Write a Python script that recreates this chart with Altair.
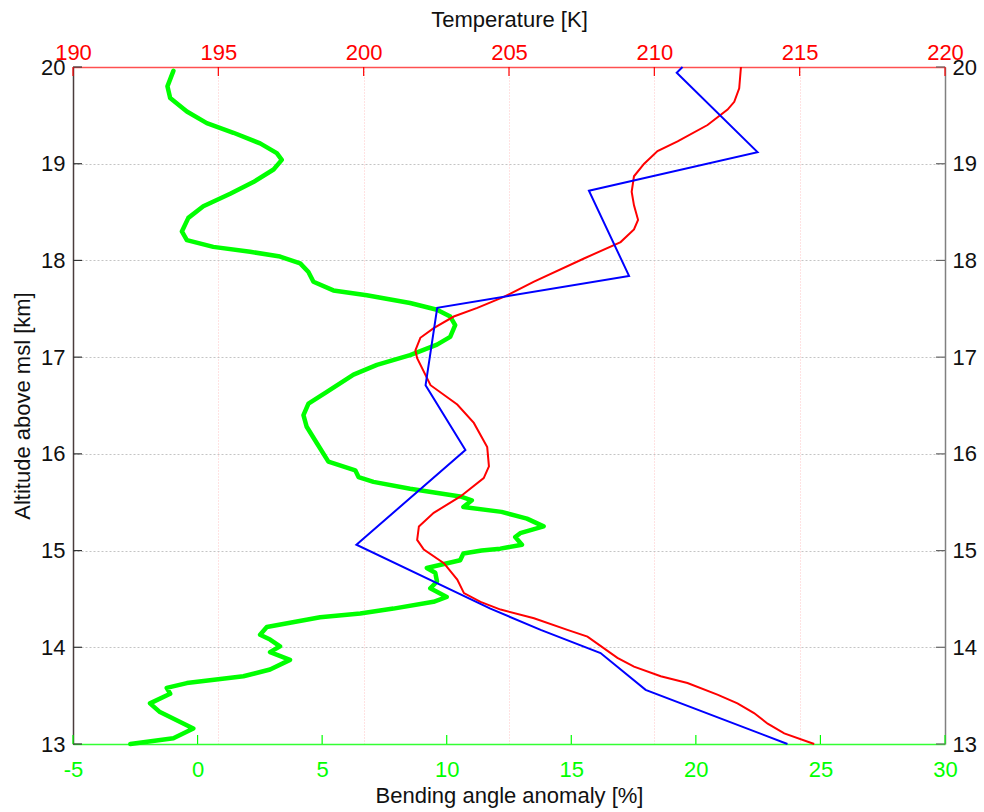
import altair as alt
import pandas as pd

# ---- data ----
green_alt = [19.96, 19.80, 19.68, 19.54, 19.42, 19.32, 19.21, 19.11, 19.04, 18.94,
             18.81, 18.69, 18.56, 18.44, 18.30, 18.21, 18.14, 18.09, 18.04, 17.97,
             17.88, 17.78, 17.69, 17.64, 17.56, 17.49, 17.42, 17.33, 17.21, 17.13,
             17.02, 16.92, 16.82, 16.64, 16.52, 16.40, 16.28, 16.11, 15.92, 15.83,
             15.76, 15.71, 15.64, 15.56, 15.52, 15.45, 15.40, 15.33, 15.25, 15.18,
             15.14, 15.06, 15.02, 15.00, 14.97, 14.90, 14.82, 14.77, 14.68, 14.61,
             14.52, 14.47, 14.40, 14.35, 14.31, 14.21, 14.13, 14.08, 14.01, 13.95,
             13.87, 13.77, 13.70, 13.63, 13.58, 13.52, 13.42, 13.33, 13.16, 13.06,
             13.00]
green_bend = [-0.97, -1.21, -1.10, -0.43, 0.37, 1.44, 2.51, 3.18, 3.38, 3.05,
              2.24, 1.31, 0.23, -0.37, -0.63, -0.43, 0.63, 2.11, 3.31, 4.12,
              4.45, 4.65, 5.45, 6.79, 8.53, 9.61, 10.14, 10.34, 10.14, 9.61,
              8.53, 7.20, 6.26, 5.19, 4.45, 4.25, 4.38, 4.79, 5.25, 6.33,
              6.46, 7.06, 8.53, 10.54, 11.01, 10.67, 12.20, 13.22, 13.89, 12.95,
              12.75, 13.02, 12.15, 11.40, 10.67, 10.54, 9.20, 9.54, 9.61, 9.34,
              10.00, 9.47, 7.86, 6.53, 4.92, 2.78, 2.51, 2.91, 3.31, 2.91,
              3.71, 2.91, 1.84, -0.43, -1.24, -1.10, -1.91, -1.51, -0.17, -0.97,
              -2.70]

red_alt = [20.00, 19.78, 19.64, 19.56, 19.40, 19.23, 19.13, 19.00, 18.87, 18.71,
           18.57, 18.42, 18.32, 18.19, 18.02, 17.78, 17.62, 17.51, 17.42, 17.30,
           17.20, 17.07, 16.99, 16.71, 16.51, 16.32, 16.07, 15.87, 15.75, 15.56,
           15.39, 15.25, 15.11, 15.01, 14.87, 14.70, 14.56, 14.47, 14.39, 14.30,
           14.18, 14.11, 13.89, 13.80, 13.70, 13.63, 13.51, 13.42, 13.32, 13.21,
           13.11, 13.00]
red_temp = [212.98, 212.92, 212.75, 212.52, 211.83, 210.80, 210.11, 209.65, 209.30, 209.22,
            209.30, 209.44, 209.30, 208.84, 207.58, 205.86, 204.80, 203.91, 203.10, 202.41,
            201.95, 201.78, 201.84, 202.30, 203.22, 203.79, 204.25, 204.31, 204.13, 203.33,
            202.41, 201.90, 201.84, 202.07, 202.76, 203.22, 203.45, 204.02, 204.71, 205.86,
            207.01, 207.70, 208.73, 209.30, 210.22, 211.14, 212.17, 212.86, 213.43, 213.90,
            214.47, 215.50]

blue_alt = [20.00, 19.94, 19.12, 18.72, 17.84, 17.51, 16.71, 16.04, 15.06, 14.40,
            14.18, 13.94, 13.56, 13.00]
blue_temp = [210.97, 210.77, 213.55, 207.75, 209.13, 202.53, 202.13, 203.50, 199.75, 204.36,
             206.09, 208.15, 209.70, 214.58]

bend_ticks = [-5, 0, 5, 10, 15, 20, 25, 30]
temp_ticks = [190, 195, 200, 205, 210, 215, 220]
alt_ticks = [13, 14, 15, 16, 17, 18, 19, 20]

# ---- tables ----
df_green = pd.DataFrame({"alt": green_alt, "bend": green_bend, "idx": range(len(green_alt))})
df_red = pd.DataFrame({"alt": red_alt, "temp": red_temp, "idx": range(len(red_alt))})
df_blue = pd.DataFrame({"alt": blue_alt, "temp": blue_temp, "idx": range(len(blue_alt))})
df_bt = pd.DataFrame({"bend": bend_ticks})
df_tt = pd.DataFrame({"temp": temp_ticks})
df_at = pd.DataFrame({"alt": alt_ticks})

W, H = 872, 677
FONT = "Liberation Sans"
GREEN = "#00ff00"
RED = "#ff0000"
BLUE = "#0000ff"
TL = 9  # inward tick length
PLAIN = "'' + datum.value"   # plain hyphen-minus like the original

bend_scale = alt.Scale(domain=[-5, 30], nice=False, zero=False)
temp_scale = alt.Scale(domain=[190, 220], nice=False, zero=False)
alt_scale = alt.Scale(domain=[13, 20], nice=False, zero=False)

bottom_axis = alt.Axis(orient="bottom", values=bend_ticks, labelExpr=PLAIN, grid=False,
                       ticks=False, labelFlush=False,
                       labelColor=GREEN, labelFontSize=22, labelFont=FONT, labelPadding=15,
                       domainColor="#33ff33", domainWidth=1.5,
                       title="Bending angle anomaly [%]", titleFont=FONT, titleFontSize=22,
                       titleFontWeight="normal", titleColor="#111111", titlePadding=5)
left_axis = alt.Axis(orient="left", values=alt_ticks, labelExpr=PLAIN, grid=True,
                     gridColor="#c4c4c4", gridDash=[2, 2], gridWidth=1,
                     ticks=False, labelFlush=False,
                     labelColor="#111111", labelFontSize=22, labelFont=FONT, labelPadding=8,
                     domainColor="#4a3c3c", domainWidth=1.5,
                     title="Altitude above msl [km]", titleFont=FONT, titleFontSize=22,
                     titleFontWeight="normal", titleColor="#111111", titlePadding=6)
top_axis = alt.Axis(orient="top", values=temp_ticks, labelExpr=PLAIN, grid=True,
                    gridColor="#ffc4c4", gridDash=[1, 2], gridWidth=1,
                    ticks=False, labelFlush=False,
                    labelColor=RED, labelFontSize=22, labelFont=FONT, labelPadding=3,
                    domainColor="#ff5050", domainWidth=1.5,
                    title="Temperature [K]", titleFont=FONT, titleFontSize=22,
                    titleFontWeight="normal", titleColor="#111111", titlePadding=10)
right_axis = alt.Axis(orient="right", values=alt_ticks, labelExpr=PLAIN, grid=False,
                      ticks=False, labelFlush=False,
                      labelColor="#111111", labelFontSize=22, labelFont=FONT, labelPadding=7,
                      domainColor="#808080", domainWidth=1.5, title="")

# ---- bending-angle layer (bottom / left axes) ----
green_line = alt.Chart(df_green).mark_line(
    color=GREEN, strokeWidth=4.5, strokeJoin="round", strokeCap="round"
).encode(
    x=alt.X("bend:Q", scale=bend_scale, axis=bottom_axis),
    y=alt.Y("alt:Q", scale=alt_scale, axis=left_axis),
    order=alt.Order("idx:Q"),
)
bottom_ticks = alt.Chart(df_bt).mark_rule(color=GREEN, strokeWidth=1.2).encode(
    x=alt.X("bend:Q", scale=bend_scale, axis=bottom_axis),
    y=alt.value(H), y2=alt.value(H - TL),
)
left_ticks = alt.Chart(df_at).mark_rule(color="#333333", strokeWidth=1.2).encode(
    y=alt.Y("alt:Q", scale=alt_scale, axis=left_axis),
    x=alt.value(0), x2=alt.value(TL),
)
bend_layer = alt.layer(green_line, left_ticks, bottom_ticks)

# ---- temperature layer (top / right axes) ----
red_line = alt.Chart(df_red).mark_line(color=RED, strokeWidth=2).encode(
    x=alt.X("temp:Q", scale=temp_scale, axis=top_axis),
    y=alt.Y("alt:Q", scale=alt_scale, axis=right_axis),
    order=alt.Order("idx:Q"),
)
blue_line = alt.Chart(df_blue).mark_line(color=BLUE, strokeWidth=2).encode(
    x=alt.X("temp:Q", scale=temp_scale, axis=top_axis),
    y=alt.Y("alt:Q", scale=alt_scale, axis=right_axis),
    order=alt.Order("idx:Q"),
)
top_ticks = alt.Chart(df_tt).mark_rule(color=RED, strokeWidth=1.2).encode(
    x=alt.X("temp:Q", scale=temp_scale, axis=top_axis),
    y=alt.value(0), y2=alt.value(TL),
)
right_ticks = alt.Chart(df_at).mark_rule(color="#666666", strokeWidth=1.2).encode(
    y=alt.Y("alt:Q", scale=alt_scale, axis=right_axis),
    x=alt.value(W), x2=alt.value(W - TL),
)
temp_layer = alt.layer(red_line, blue_line, top_ticks, right_ticks)

chart = alt.layer(bend_layer, temp_layer).resolve_scale(
    x="independent", y="independent"
).properties(
    width=W, height=H,
    padding={"left": 73, "top": 67, "right": 984 - 73 - W, "bottom": 812 - 67 - H},
    autosize=alt.AutoSizeParams(type="none"),
    background="white",
).configure_view(stroke=None)

chart.save("out.html", embed_options={"renderer": "svg", "actions": False})
